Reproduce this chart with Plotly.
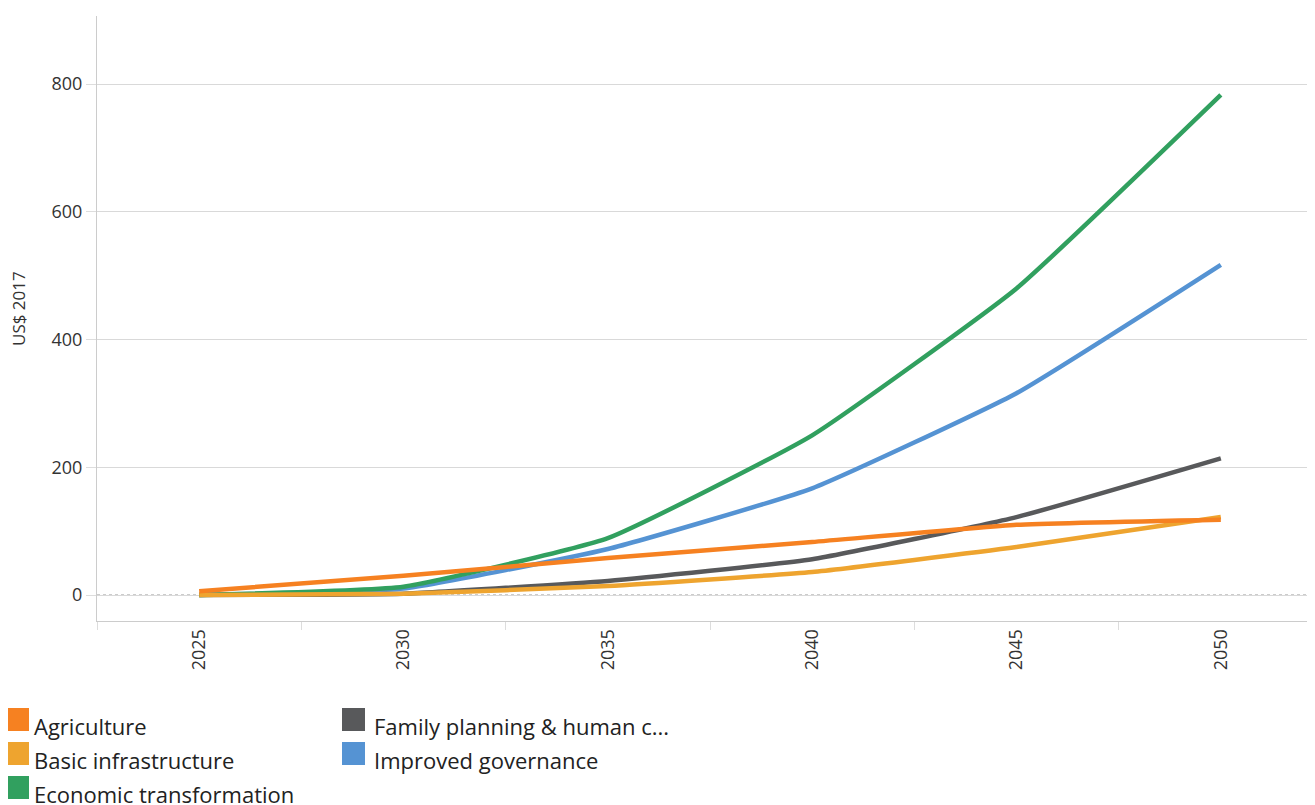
import plotly.graph_objects as go

years = ["2025", "2030", "2035", "2040", "2045", "2050"]

agriculture = [6, 30, 58, 83, 110, 118]
basic_infrastructure = [0, 2, 14, 36, 75, 122]
economic_transformation = [0, 13, 89, 250, 480, 783]
family_planning = [0, 2, 22, 56, 122, 214]
improved_governance = [0, 10, 72, 167, 316, 517]

legend_names = ["Agriculture", "Basic infrastructure", "Economic transformation",
                "Family planning & human c...", "Improved governance"]
colors = {"Agriculture": "#f68121", "Basic infrastructure": "#eea42f",
          "Economic transformation": "#31a05f",
          "Family planning & human c...": "#58595b",
          "Improved governance": "#5593d3"}

# drawing order (later = on top)
series = [
    ("Improved governance", improved_governance),
    ("Family planning & human c...", family_planning),
    ("Economic transformation", economic_transformation),
    ("Basic infrastructure", basic_infrastructure),
    ("Agriculture", agriculture),
]

OFF = 8  # page body margin
W, H = 1315, 805
L, R, T, B = 97 - OFF, 0, 16 - OFF, H - (621 - OFF)
PW, PH = W - L - R, H - T - B


def px(x):
    return (x - OFF - L) / PW


def py(y):
    return (H - B - (y - OFF)) / PH


fig = go.Figure()
for name, vals in series:
    fig.add_trace(go.Scatter(
        x=years, y=vals, mode="lines", name=name,
        line=dict(color=colors[name], width=4.5, shape="spline", smoothing=0.4),
        showlegend=False, hoverinfo="x+y+name",
    ))

fig.add_shape(type="line", xref="paper", x0=0, x1=1, yref="y", y0=0, y1=0,
              line=dict(color="#999999", width=1, dash="dot"), layer="below")

# manual legend: two columns of square swatches + labels
legend_font = dict(family="Open Sans", size=22, color="#222222")
swatch_x = [(8, 29), (342, 365)]
text_x = [32, 372]
row_top = [708, 742, 776]
for i, name in enumerate(legend_names):
    col = 0 if i < 3 else 1
    row = i if i < 3 else i - 3
    sx0, sx1 = swatch_x[col]
    y0 = row_top[row]
    fig.add_shape(type="rect", xref="paper", yref="paper",
                  x0=px(sx0), x1=px(sx1), y0=py(y0 + 23), y1=py(y0),
                  fillcolor=colors[name], line=dict(width=0))
    fig.add_annotation(xref="paper", yref="paper", x=px(text_x[col]), y=py(y0 + 18),
                       text=name, showarrow=False, xanchor="left",
                       yanchor="middle", font=legend_font)

# y-axis title
fig.add_annotation(xref="paper", yref="paper", x=px(18), y=py(309),
                   text="US$ 2017", textangle=-90, showarrow=False,
                   xanchor="center", yanchor="middle",
                   font=dict(family="Open Sans", size=17, color="#333333"))

fig.update_layout(
    width=W, height=H,
    margin=dict(l=L, r=R, t=T, b=B, autoexpand=False),
    paper_bgcolor="white", plot_bgcolor="white",
    showlegend=False,
    xaxis=dict(type="category", range=[-0.5, 5.5], tickangle=-90,
               tickson="boundaries", ticks="outside", ticklen=8,
               tickcolor="#dddddd", showline=True, linecolor="#cccccc",
               linewidth=1, showgrid=False, zeroline=False, automargin=False,
               tickfont=dict(family="Open Sans", size=18, color="#333333")),
    yaxis=dict(range=[-40.7, 906.5], tickvals=[0, 200, 400, 600, 800],
               ticks="outside", ticklen=10, tickcolor="#dddddd",
               showline=True, linecolor="#cccccc", linewidth=1,
               showgrid=True, gridcolor="#d9d9d9", gridwidth=1,
               zeroline=False, automargin=False,
               tickfont=dict(family="Open Sans", size=18, color="#333333")),
)

fig.write_html("out.html")
